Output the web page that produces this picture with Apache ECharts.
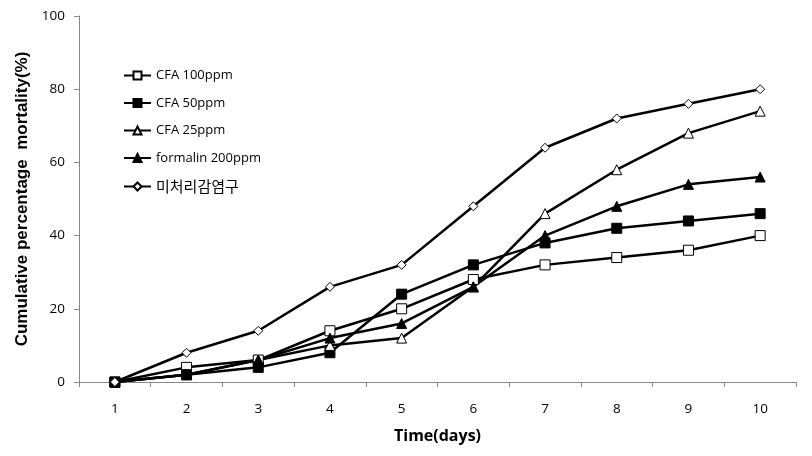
<!DOCTYPE html>
<html><head><meta charset="utf-8">
<script src="https://cdn.jsdelivr.net/npm/echarts@6/dist/echarts.min.js"></script>
<style>html,body{margin:0;padding:0;background:#fff}#c{width:812px;height:456px}</style>
</head><body><div id="c"></div>
<script>
const categories = ['1','2','3','4','5','6','7','8','9','10'];
const seriesNames = ['CFA 100ppm','CFA 50ppm','CFA 25ppm','formalin 200ppm','미처리감염구'];
const cfa100 = [0,4,6,14,20,28,32,34,36,40];
const cfa50 = [0,2,4,8,24,32,38,42,44,46];
const cfa25 = [0,2,6,10,12,26,46,58,68,74];
const formalin200 = [0,2,6,12,16,26,40,48,54,56];
const untreated = [0,8,14,26,32,48,64,72,76,80];
const yTicks = [0,20,40,60,80,100];

const FONT = '"Open Sans", "Noto Sans CJK KR", sans-serif';
function mk(name, data, symbol, filled, size){
  return {
    name, type:'line', data, symbol, symbolSize:size,
    lineStyle:{color:'#000', width:2.5},
    itemStyle:{color: filled ? '#000' : '#fff', borderColor:'#000', borderWidth:1},
    emphasis:{disabled:true}, animation:false
  };
}
const chart = echarts.init(document.getElementById('c'));
chart.setOption({
  animation:false,
  grid:{left:79, right:16, top:16, bottom:74},
  legend:{
    orient:'vertical', left:118, top:64, itemGap:14.5, itemWidth:27, itemHeight:10,
    textStyle:{fontFamily:FONT, fontSize:13, color:'#000'},
    data:[
      {name:seriesNames[0]},{name:seriesNames[1]},{name:seriesNames[2]},{name:seriesNames[3]},
      {name:seriesNames[4], textStyle:{fontSize:15, fontFamily:'"Noto Sans CJK KR", sans-serif'}}
    ]
  },
  xAxis:{
    type:'category', data:categories, boundaryGap:true,
    name:'Time(days)', nameLocation:'middle', nameGap:46,
    nameTextStyle:{fontFamily:FONT, fontSize:16, fontWeight:'bold', color:'#000'},
    axisLine:{lineStyle:{color:'#888', width:1}},
    axisTick:{show:true, length:5, lineStyle:{color:'#888'}},
    axisLabel:{fontFamily:FONT, fontSize:13.5, color:'#000', margin:20}
  },
  yAxis:{
    type:'value', min:0, max:100, interval:20,
    name:'Cumulative percentage  mortality(%)', nameLocation:'middle', nameGap:47,
    nameTextStyle:{fontFamily:'"Liberation Sans", Arial, sans-serif', fontSize:17, fontWeight:'bold', color:'#000'},
    axisLine:{show:true, lineStyle:{color:'#888', width:1}},
    axisTick:{show:true, length:5, lineStyle:{color:'#888'}},
    axisLabel:{fontFamily:FONT, fontSize:13.5, color:'#000', margin:14,
      formatter:v => yTicks.includes(v) ? String(v) : ''},
    splitLine:{show:false}
  },
  series:[
    mk(seriesNames[0], cfa100, 'rect', false, 10),
    mk(seriesNames[1], cfa50, 'rect', true, 10),
    mk(seriesNames[2], cfa25, 'triangle', false, 10),
    mk(seriesNames[3], formalin200, 'triangle', true, 10),
    mk(seriesNames[4], untreated, 'diamond', false, 9)
  ]
});
</script></body></html>
